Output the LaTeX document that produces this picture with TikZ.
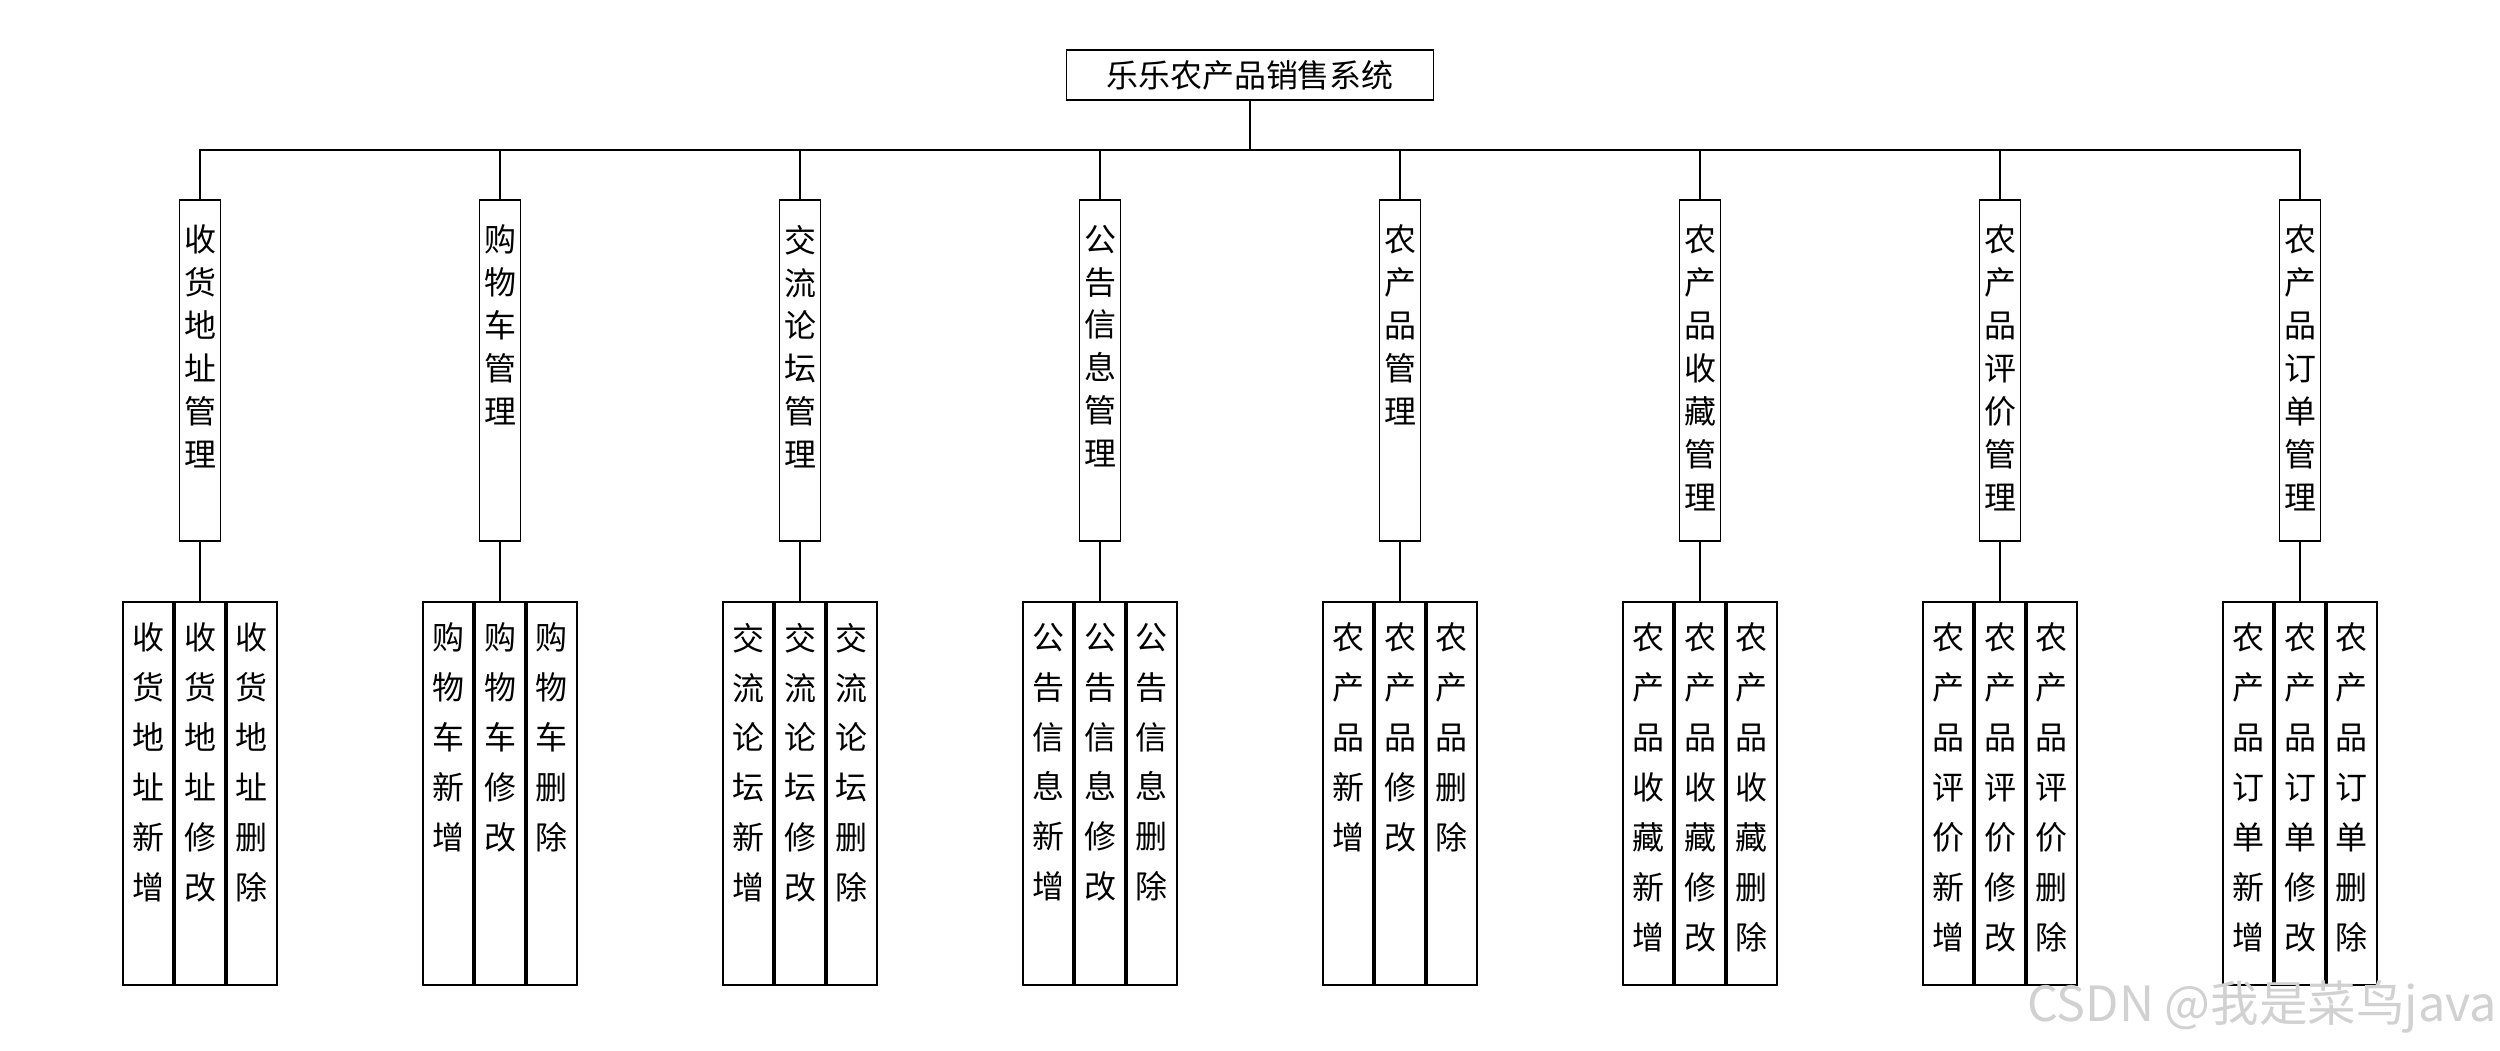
\documentclass[tikz,border=0pt]{standalone}
\usepackage{fontspec}
\newfontfamily\cjk{Noto Sans CJK SC}
\usetikzlibrary{positioning}

\begin{document}
\begin{tikzpicture}[every node/.style={font=\cjk\fontsize{9.1}{11}\selectfont},line width=0.5pt,
root/.style={draw,minimum width=36.7mm,minimum height=5mm,inner sep=0pt},
modbox/.style={draw,minimum width=4.1mm,minimum height=34.1mm,inner sep=0pt},
leafbox/.style={draw,minimum width=5mm,minimum height=38.3mm,inner sep=0pt},
modtext/.style={anchor=north,align=center,inner sep=0pt,yshift=-2.5mm,font=\cjk\fontsize{9.1}{12.2}\selectfont},
leaftext/.style={anchor=north,align=center,inner sep=0pt,yshift=-2.1mm,font=\cjk\fontsize{9.1}{14.2}\selectfont}]
\useasboundingbox (0,0) rectangle (25,10.5);
% root and bus
\node[root] (sys) at (12.5,9.75) {乐乐农产品销售系统};
\coordinate (bus) at (12.5,9.0);
% second level
\node[modbox,label={[modtext]90:收\\货\\地\\址\\管\\理}] (addr) at (2,6.795) {};
\node[modbox,label={[modtext]90:购\\物\\车\\管\\理}] (cart) at (5,6.795) {};
\node[modbox,label={[modtext]90:交\\流\\论\\坛\\管\\理}] (forum) at (8,6.795) {};
\node[modbox,label={[modtext]90:公\\告\\信\\息\\管\\理}] (notice) at (11,6.795) {};
\node[modbox,label={[modtext]90:农\\产\\品\\管\\理}] (prod) at (14,6.795) {};
\node[modbox,label={[modtext]90:农\\产\\品\\收\\藏\\管\\理}] (fav) at (17,6.795) {};
\node[modbox,label={[modtext]90:农\\产\\品\\评\\价\\管\\理}] (review) at (20,6.795) {};
\node[modbox,label={[modtext]90:农\\产\\品\\订\\单\\管\\理}] (order) at (23,6.795) {};
% third level
\node[leafbox,label={[leaftext]90:收\\货\\地\\址\\修\\改}] (addredit) at (2,2.565) {};
\node[leafbox,left=0pt of addredit,label={[leaftext]90:收\\货\\地\\址\\新\\增}] (addrnew) {};
\node[leafbox,right=0pt of addredit,label={[leaftext]90:收\\货\\地\\址\\删\\除}] (addrdel) {};
\node[leafbox,label={[leaftext]90:购\\物\\车\\修\\改}] (cartedit) at (5,2.565) {};
\node[leafbox,left=0pt of cartedit,label={[leaftext]90:购\\物\\车\\新\\增}] (cartnew) {};
\node[leafbox,right=0pt of cartedit,label={[leaftext]90:购\\物\\车\\删\\除}] (cartdel) {};
\node[leafbox,label={[leaftext]90:交\\流\\论\\坛\\修\\改}] (forumedit) at (8,2.565) {};
\node[leafbox,left=0pt of forumedit,label={[leaftext]90:交\\流\\论\\坛\\新\\增}] (forumnew) {};
\node[leafbox,right=0pt of forumedit,label={[leaftext]90:交\\流\\论\\坛\\删\\除}] (forumdel) {};
\node[leafbox,label={[leaftext]90:公\\告\\信\\息\\修\\改}] (noticeedit) at (11,2.565) {};
\node[leafbox,left=0pt of noticeedit,label={[leaftext]90:公\\告\\信\\息\\新\\增}] (noticenew) {};
\node[leafbox,right=0pt of noticeedit,label={[leaftext]90:公\\告\\信\\息\\删\\除}] (noticedel) {};
\node[leafbox,label={[leaftext]90:农\\产\\品\\修\\改}] (prodedit) at (14,2.565) {};
\node[leafbox,left=0pt of prodedit,label={[leaftext]90:农\\产\\品\\新\\增}] (prodnew) {};
\node[leafbox,right=0pt of prodedit,label={[leaftext]90:农\\产\\品\\删\\除}] (proddel) {};
\node[leafbox,label={[leaftext]90:农\\产\\品\\收\\藏\\修\\改}] (favedit) at (17,2.565) {};
\node[leafbox,left=0pt of favedit,label={[leaftext]90:农\\产\\品\\收\\藏\\新\\增}] (favnew) {};
\node[leafbox,right=0pt of favedit,label={[leaftext]90:农\\产\\品\\收\\藏\\删\\除}] (favdel) {};
\node[leafbox,label={[leaftext]90:农\\产\\品\\评\\价\\修\\改}] (reviewedit) at (20,2.565) {};
\node[leafbox,left=0pt of reviewedit,label={[leaftext]90:农\\产\\品\\评\\价\\新\\增}] (reviewnew) {};
\node[leafbox,right=0pt of reviewedit,label={[leaftext]90:农\\产\\品\\评\\价\\删\\除}] (reviewdel) {};
\node[leafbox,label={[leaftext]90:农\\产\\品\\订\\单\\修\\改}] (orderedit) at (23,2.565) {};
\node[leafbox,left=0pt of orderedit,label={[leaftext]90:农\\产\\品\\订\\单\\新\\增}] (ordernew) {};
\node[leafbox,right=0pt of orderedit,label={[leaftext]90:农\\产\\品\\订\\单\\删\\除}] (orderdel) {};
% connectors
\draw (sys) -- (bus);
\draw (addr.north) -- (addr.north |- bus) -- (order.north |- bus) -- (order.north);
\draw (cart.north) -- (cart.north |- bus); \draw (forum.north) -- (forum.north |- bus); \draw (notice.north) -- (notice.north |- bus);
\draw (prod.north) -- (prod.north |- bus); \draw (fav.north) -- (fav.north |- bus); \draw (review.north) -- (review.north |- bus);
\draw (addr) -- (addredit); \draw (cart) -- (cartedit); \draw (forum) -- (forumedit); \draw (notice) -- (noticeedit);
\draw (prod) -- (prodedit); \draw (fav) -- (favedit); \draw (review) -- (reviewedit); \draw (order) -- (orderedit);
% watermark
\node[font=\cjk\fontsize{13.8}{16}\selectfont,text=black!18] (mark) at (22.62,0.43) {CSDN @我是菜鸟java};
\end{tikzpicture}
\end{document}
